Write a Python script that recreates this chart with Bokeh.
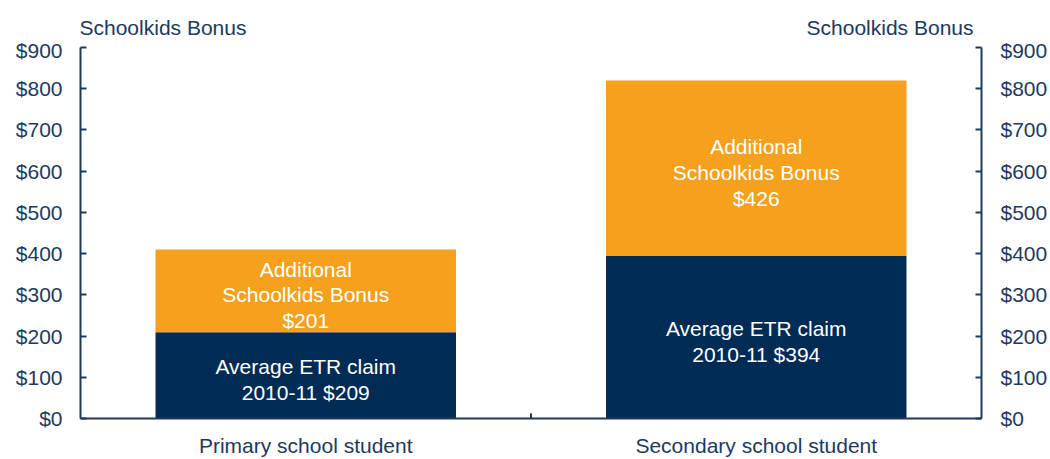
from bokeh.plotting import figure
from bokeh.models import (FactorRange, Range1d, LinearAxis, PrintfTickFormatter,
                          FixedTicker, ColumnDataSource)
from bokeh.layouts import column
from bokeh.core.properties import value
from bokeh.embed import file_html
from bokeh.resources import INLINE

categories = ["Primary school student", "Secondary school student"]
etr_claim = [209, 394]
additional_bonus = [201, 426]
etr_labels = ["Average ETR claim\n2010-11 $209", "Average ETR claim\n2010-11 $394"]
bonus_labels = ["Additional\nSchoolkids Bonus\n$201", "Additional\nSchoolkids Bonus\n$426"]
y_ticks = [0, 100, 200, 300, 400, 500, 600, 700, 800, 900]
axis_title = "Schoolkids Bonus"

NAVY = "#002B55"
ORANGE = "#F5A11D"
TEXT = "#1C3A60"
FONT = "Liberation Sans"
FS = "21px"

HEADER_H = 38
W, H = 1050, 459

xr = FactorRange(factors=categories, range_padding=0)

# header with the two axis titles (its frame is aligned with the main plot frame)
header = figure(width=W, height=HEADER_H, x_range=xr, y_range=Range1d(0, HEADER_H),
                output_backend="svg", toolbar_location=None, x_axis_type=None, y_axis_type=None,
                min_border_left=80, min_border_right=68, min_border_top=0, min_border_bottom=0)
header.grid.visible = False
header.outline_line_color = None
hsrc = ColumnDataSource(dict(x=[0.0, 2.0], y=[23, 23], t=[axis_title, axis_title],
                             align=["left", "right"], xo=[-1, -8]))
header.text(x="x", y="y", text="t", text_align="align", x_offset="xo", source=hsrc,
            text_baseline="top", text_color=TEXT, text_font=value(FONT), text_font_size=FS)

p = figure(x_range=xr, y_range=Range1d(0, 900),
           width=W, height=H - HEADER_H, output_backend="svg", toolbar_location=None,
           min_border_left=80, min_border_right=68, min_border_top=9, min_border_bottom=36)
p.outline_line_color = None
p.grid.visible = False

tops = [a + b for a, b in zip(etr_claim, additional_bonus)]
src = ColumnDataSource(dict(cat=categories, etr=etr_claim, bonus=additional_bonus, top=tops,
                            etr_mid=[v / 2 for v in etr_claim],
                            bonus_mid=[a + b / 2 for a, b in zip(etr_claim, additional_bonus)],
                            etr_lab=etr_labels, bonus_lab=bonus_labels))
p.vbar(x="cat", bottom=0, top="etr", width=0.667, source=src, fill_color=NAVY, line_color=None)
p.vbar(x="cat", bottom="etr", top="top", width=0.667, source=src, fill_color=ORANGE, line_color=None)

for ycol, tcol in (("etr_mid", "etr_lab"), ("bonus_mid", "bonus_lab")):
    p.text(x="cat", y=ycol, text=tcol, source=src, text_align="center", text_baseline="middle",
           y_offset=4, text_color="white", text_font=value(FONT), text_font_size=FS,
           text_line_height=1.12)

def style_y(ax, standoff):
    ax.ticker = FixedTicker(ticks=y_ticks)
    ax.formatter = PrintfTickFormatter(format="$%d")
    ax.major_label_text_font = FONT
    ax.major_label_text_font_size = FS
    ax.major_label_text_color = TEXT
    ax.axis_line_color = TEXT
    ax.axis_line_width = 2
    ax.major_tick_line_color = TEXT
    ax.major_tick_line_width = 2
    ax.major_tick_in = 6
    ax.major_tick_out = 0
    ax.minor_tick_line_color = None
    ax.major_label_standoff = standoff

style_y(p.yaxis[0], 18)
right_axis = LinearAxis()
style_y(right_axis, 19)
p.add_layout(right_axis, "right")

xa = p.xaxis[0]
xa.axis_line_color = TEXT
xa.axis_line_width = 2
xa.major_tick_line_color = None
xa.minor_tick_line_color = None
xa.major_label_text_font = FONT
xa.major_label_text_font_size = FS
xa.major_label_text_color = TEXT
xa.major_label_standoff = 9

# tick between the two categories
p.segment(x0=[1.0], y0=[0], x1=[1.0], y1=[13], line_color=TEXT, line_width=2)

layout = column(header, p, spacing=0)
open("out.html", "w").write(file_html(layout, INLINE))
